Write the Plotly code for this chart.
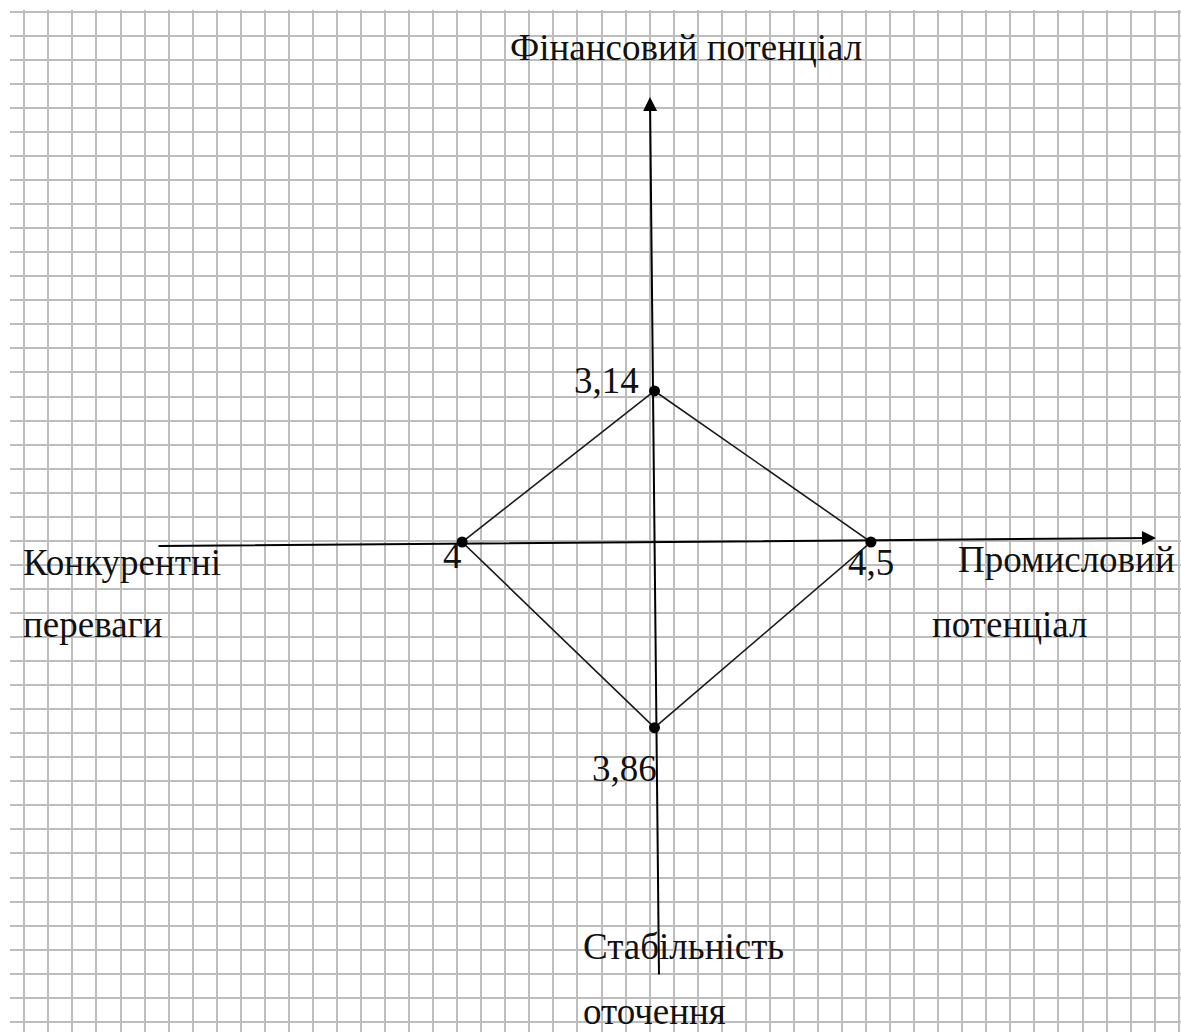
import plotly.graph_objects as go

# ---------------- data ----------------
categories = ["Фінансовий потенціал", "Промисловий потенціал",
              "Стабільність оточення", "Конкурентні переваги"]
values = [3.14, 4.5, 3.86, 4.0]
value_labels = ["3,14", "4,5", "3,86", "4"]
# direction of each category axis (up, right, down, left)
directions = [(0, 1), (1, 0), (0, -1), (-1, 0)]

# ---------------- geometry ----------------
W, H = 1181, 1032
PX_PER_UNIT = 48.1          # one unit = two grid squares
OX, OY = 654.5, 542.0       # pixel position of the axes crossing
PLOT_L, PLOT_T = 10, 10

def dx(xp):
    return (xp - OX) / PX_PER_UNIT

def dy(yp):
    return (OY - yp) / PX_PER_UNIT

FONT = "Liberation Serif, Times New Roman, serif"
FS = 37

xs = [v * d[0] for v, d in zip(values, directions)]
ys = [v * d[1] for v, d in zip(values, directions)]

fig = go.Figure()
fig.add_trace(go.Scatter(
    x=xs + xs[:1], y=ys + ys[:1], mode="lines",
    line=dict(color="#1a1a1a", width=1.6), hoverinfo="skip", showlegend=False))
fig.add_trace(go.Scatter(
    x=xs, y=ys, mode="markers",
    marker=dict(color="black", size=11), hoverinfo="skip", showlegend=False))

annotations = []
# axis arrows
annotations.append(dict(x=dx(1156), y=dy(538), ax=dx(157), ay=dy(546),
                        xref="x", yref="y", axref="x", ayref="y", text="",
                        showarrow=True, arrowhead=2, arrowsize=1.4,
                        arrowwidth=2, arrowcolor="black", standoff=0))
annotations.append(dict(x=dx(650), y=dy(97), ax=dx(659), ay=dy(976),
                        xref="x", yref="y", axref="x", ayref="y", text="",
                        showarrow=True, arrowhead=2, arrowsize=1.4,
                        arrowwidth=2, arrowcolor="black", standoff=0))

# value labels next to the points
label_style = [
    dict(xanchor="right", xshift=-14, yshift=10),    # top
    dict(xanchor="center", xshift=0, yshift=-20),    # right
    dict(xanchor="right", xshift=4, yshift=-41),     # bottom
    dict(xanchor="right", xshift=2, yshift=-13),     # left
]
for x, y, t, st in zip(xs, ys, value_labels, label_style):
    annotations.append(dict(x=x, y=y, xref="x", yref="y", text=t, showarrow=False,
                            yanchor="middle", font=dict(family=FONT, size=FS, color="#111"),
                            **st))

# category names (left x pixel, baseline pixel per line)
cat_pos = [
    [(508, 58)],
    [(956, 570), (930, 635)],
    [(581, 957), (581, 1022)],
    [(21, 573), (21, 635)],
]
for name, pos in zip(categories, cat_pos):
    parts = [name] if len(pos) == 1 else name.split(" ")
    for part, (xp, yb) in zip(parts, pos):
        annotations.append(dict(x=dx(xp), y=dy(yb - 11), xref="x", yref="y",
                                text=part, showarrow=False, xanchor="left",
                                yanchor="middle",
                                font=dict(family=FONT, size=FS, color="#111")))

grid = dict(showgrid=True, gridcolor="#bdbdbd", gridwidth=2, dtick=0.5,
            zeroline=False, showline=False, showticklabels=False, ticks="",
            fixedrange=True)
fig.update_layout(
    width=W, height=H,
    margin=dict(l=PLOT_L, t=PLOT_T, r=0, b=0, pad=0),
    paper_bgcolor="white", plot_bgcolor="white",
    xaxis=dict(range=[dx(PLOT_L), dx(W)], tick0=dx(24.3), **grid),
    yaxis=dict(range=[dy(H), dy(PLOT_T)], tick0=dy(11.7), **grid),
    annotations=annotations,
    showlegend=False,
)

fig.write_html("out.html", config={"displayModeBar": False, "staticPlot": True},
               post_script="document.body.style.margin='0';document.body.style.overflow='hidden';")
